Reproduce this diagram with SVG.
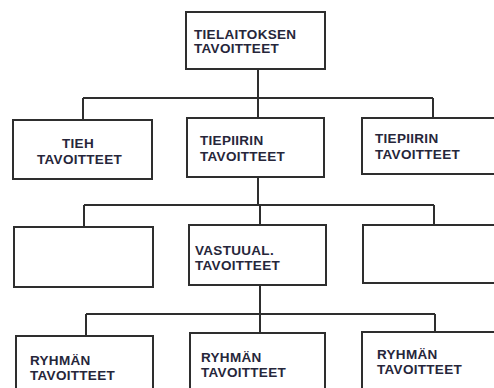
<svg xmlns="http://www.w3.org/2000/svg" width="494" height="388" viewBox="0 0 494 388">
  <style>
    .box { fill: #ffffff; stroke: #2e2e2e; stroke-width: 2; }
    .wire { fill: none; stroke: #2e2e2e; stroke-width: 2; }
    .lbl { font-family: "Liberation Sans", Arial, sans-serif; font-size: 13.5px; font-weight: bold; fill: #26263a; letter-spacing: 0.3px; }
  </style>
  <rect width="494" height="388" fill="#ffffff"/>

  <g id="connectors">
    <!-- level 1 to level 2 -->
    <path class="wire" d="M258 69 V98 M83 98 H433 M83 98 V120 M258 98 V118 M433 98 V118"/>
    <!-- level 2 to level 3 -->
    <path class="wire" d="M258 177 V205 M84 205 H434 M84 205 V227 M260 205 V225 M434 205 V225"/>
    <!-- level 3 to level 4 -->
    <path class="wire" d="M260 285 V314 M86 314 H435 M86 314 V336 M260 314 V333 M435 314 V332"/>
  </g>

  <g id="tielaitos">
    <rect class="box" x="186" y="12" width="139" height="57"/>
    <text class="lbl" x="194" y="39">TIELAITOKSEN</text>
    <text class="lbl" x="194" y="53">TAVOITTEET</text>
  </g>

  <g id="tieh">
    <rect class="box" x="13" y="120" width="139" height="59"/>
    <text class="lbl" x="62" y="148">TIEH</text>
    <text class="lbl" x="37" y="164">TAVOITTEET</text>
  </g>

  <g id="tiepiiri-1">
    <rect class="box" x="187" y="118" width="137" height="59"/>
    <text class="lbl" x="200" y="145">TIEPIIRIN</text>
    <text class="lbl" x="200" y="161">TAVOITTEET</text>
  </g>

  <g id="tiepiiri-2">
    <rect class="box" x="362" y="118" width="140" height="56"/>
    <text class="lbl" x="375" y="143">TIEPIIRIN</text>
    <text class="lbl" x="375" y="159">TAVOITTEET</text>
  </g>

  <g id="empty-left">
    <rect class="box" x="14" y="227" width="139" height="60"/>
  </g>

  <g id="vastuualue">
    <rect class="box" x="189" y="225" width="137" height="60"/>
    <text class="lbl" x="195" y="255">VASTUUAL.</text>
    <text class="lbl" x="195" y="270">TAVOITTEET</text>
  </g>

  <g id="empty-right">
    <rect class="box" x="363" y="225" width="140" height="58"/>
  </g>

  <g id="ryhma-1">
    <rect class="box" x="16" y="336" width="137" height="60"/>
    <text class="lbl" x="30" y="365">RYHMÄN</text>
    <text class="lbl" x="30" y="380">TAVOITTEET</text>
  </g>

  <g id="ryhma-2">
    <rect class="box" x="190" y="333" width="135" height="63"/>
    <text class="lbl" x="201" y="362">RYHMÄN</text>
    <text class="lbl" x="201" y="377">TAVOITTEET</text>
  </g>

  <g id="ryhma-3">
    <rect class="box" x="362" y="332" width="140" height="64"/>
    <text class="lbl" x="377" y="359">RYHMÄN</text>
    <text class="lbl" x="377" y="374">TAVOITTEET</text>
  </g>
</svg>
